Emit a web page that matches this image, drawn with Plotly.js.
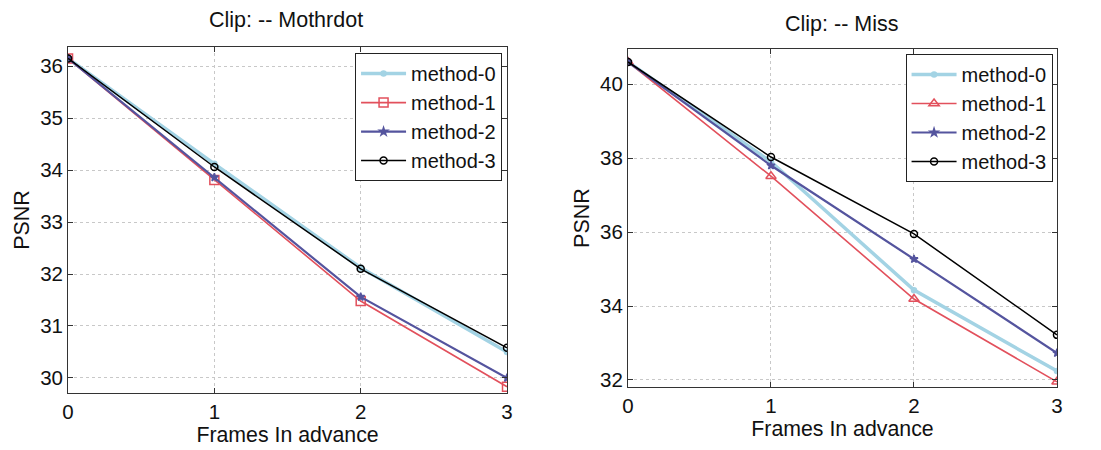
<!DOCTYPE html>
<html><head><meta charset="utf-8">
<script src="https://cdn.plot.ly/plotly-3.0.1.min.js"></script>
<style>html,body{margin:0;padding:0;background:#fff}#chart{width:1101px;height:450px}</style>
</head><body><div id="chart"></div>
<script>
const frames = [0, 1, 2, 3];
const methodNames = ['method-0', 'method-1', 'method-2', 'method-3'];
// Clip: Mothrdot
const moth0 = [36.15, 34.12, 32.12, 30.50];
const moth1 = [36.15, 33.81, 31.48, 29.83];
const moth2 = [36.15, 33.86, 31.56, 30.00];
const moth3 = [36.15, 34.06, 32.10, 30.58];
// Clip: Miss
const miss0 = [40.60, 37.90, 34.43, 32.24];
const miss1 = [40.60, 37.51, 34.19, 31.95];
const miss2 = [40.60, 37.80, 35.27, 32.73];
const miss3 = [40.60, 38.03, 35.95, 33.22];
const mothTicks = [30, 31, 32, 33, 34, 35, 36];
const missTicks = [32, 34, 36, 38, 40];

const colors = ['#a3d3e4', '#e2505c', '#54549e', '#000000'];
const widths = [3.5, 1.6, 2.2, 1.5];
const markersL = [
  {symbol:'circle', size:5},
  {symbol:'square-open', size:9},
  {symbol:'star', size:6},
  {symbol:'circle-open', size:7}
];
const markersR = [
  {symbol:'circle', size:5},
  {symbol:'triangle-up-open', size:9},
  {symbol:'star', size:6},
  {symbol:'circle-open', size:7}
];
const leftData = [moth0, moth1, moth2, moth3];
const rightData = [miss0, miss1, miss2, miss3];
const traces = [];
leftData.forEach((ys, i) => traces.push({
  x: frames, y: ys, name: methodNames[i], mode: 'lines+markers', xaxis: 'x', yaxis: 'y',
  line: {color: colors[i], width: widths[i]},
  marker: Object.assign({color: colors[i], line:{color: colors[i], width:1.5}}, markersL[i]),
  legend: 'legend'
}));
rightData.forEach((ys, i) => traces.push({
  x: frames, y: ys, name: methodNames[i], mode: 'lines+markers', xaxis: 'x2', yaxis: 'y2',
  line: {color: colors[i], width: widths[i]},
  marker: Object.assign({color: colors[i], line:{color: colors[i], width:1.5}}, markersR[i]),
  legend: 'legend2'
}));

const fnt = {family: 'Liberation Sans, Arial, sans-serif', color: '#111'};
function xax(domain, anchor) {
  return {domain: domain, anchor: anchor, range: [0, 3], tickvals: frames, ticktext: frames.map(String),
    showline: true, mirror: 'ticks', linecolor: '#333', linewidth: 1, ticks: 'inside', ticklen: 5, tickcolor: '#333',
    showgrid: true, gridcolor: '#c8c8c8', griddash: 'dot', gridwidth: 1, zeroline: false,
    tickfont: Object.assign({size: 20.5}, fnt),
    title: {text: 'Frames In advance', font: Object.assign({size: 21.3}, fnt), standoff: 0}, automargin: false};
}
function yax(domain, anchor, range, ticks) {
  return {domain: domain, anchor: anchor, range: range, tickvals: ticks,
    showline: true, mirror: 'ticks', linecolor: '#333', linewidth: 1, ticks: 'inside', ticklen: 5, tickcolor: '#333',
    showgrid: true, gridcolor: '#c8c8c8', griddash: 'dot', gridwidth: 1, zeroline: false,
    tickfont: Object.assign({size: 20.5}, fnt),
    title: {text: 'PSNR', font: Object.assign({size: 21.5}, fnt), standoff: 4}, automargin: false};
}
function leg(x, y) {
  return {x: x, y: y, xanchor: 'right', yanchor: 'top', xref: 'paper', yref: 'paper',
    bgcolor: '#fff', bordercolor: '#222', borderwidth: 1, font: Object.assign({size: 20}, fnt),
    itemwidth: 45};
}
const layout = {
  width: 1101, height: 450, margin: {l: 0, r: 0, t: 0, b: 0},
  paper_bgcolor: '#fff', plot_bgcolor: '#fff', showlegend: true,
  xaxis: xax([0.0618, 0.4605], 'y'),
  yaxis: yax([0.1267, 0.8956], 'x', [29.71, 36.37], mothTicks),
  xaxis2: xax([0.5704, 0.96], 'y2'),
  yaxis2: yax([0.14, 0.891], 'x2', [31.81, 40.95], missTicks),
  legend: leg(0.456, 0.882),
  legend2: leg(0.956, 0.880),
  annotations: [
    {text: 'Clip: -- Mothrdot', x: 0.26, y: 1 - 20/450, xref: 'paper', yref: 'paper', showarrow: false,
     xanchor: 'center', yanchor: 'middle', font: Object.assign({size: 21.5}, fnt)},
    {text: 'Clip: -- Miss', x: 0.764, y: 1 - 24/450, xref: 'paper', yref: 'paper', showarrow: false,
     xanchor: 'center', yanchor: 'middle', font: Object.assign({size: 21.5}, fnt)}
  ]
};
Plotly.newPlot('chart', traces, layout, {staticPlot: true, displayModeBar: false});
</script></body></html>
